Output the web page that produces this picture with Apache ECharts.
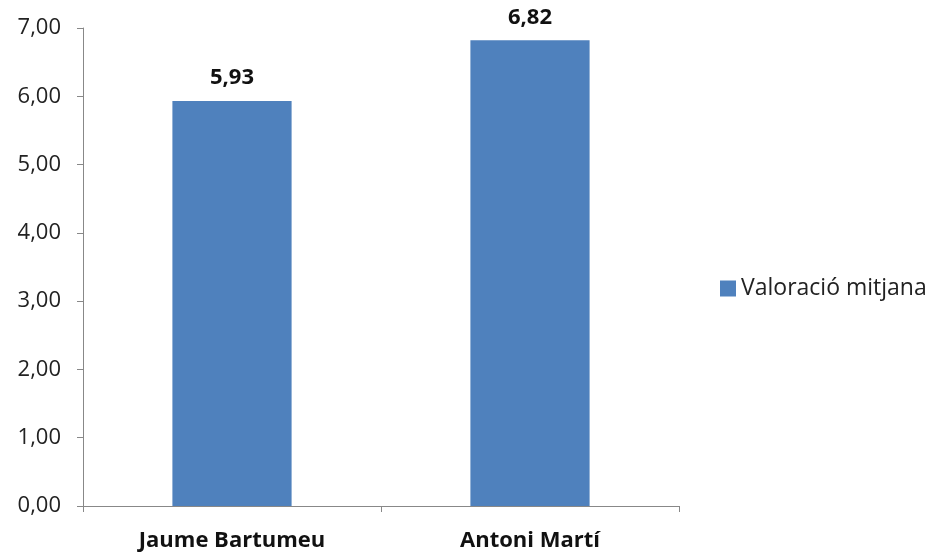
<!DOCTYPE html>
<html>
<head>
<meta charset="utf-8">
<script src="https://cdn.jsdelivr.net/npm/echarts@6/dist/echarts.min.js"></script>
<style>html,body{margin:0;padding:0;background:#fff}#c{width:934px;height:558px}</style>
</head>
<body>
<div id="c"></div>
<script>
const categories = ["Jaume Bartumeu", "Antoni Martí"];
const seriesName = "Valoració mitjana";
const values = [5.93, 6.82];
const yMin = 0, yMax = 7, yStep = 1;

const fmt = v => v.toFixed(2).replace('.', ',');
const font = "'Open Sans', 'DejaVu Sans', sans-serif";
const chart = echarts.init(document.getElementById('c'), null, {renderer: 'canvas'});
chart.setOption({
  animation: false,
  backgroundColor: '#fff',
  grid: {left: 83, right: 255, top: 28, bottom: 52, containLabel: false},
  legend: {
    data: [seriesName], left: 715, top: 272, orient: 'vertical',
    itemWidth: 16, itemHeight: 16, itemGap: 6,
    icon: 'rect',
    textStyle: {fontFamily: font, fontSize: 23, color: '#222'}
  },
  xAxis: {
    type: 'category', data: categories,
    axisLine: {lineStyle: {color: '#888', width: 1}},
    axisTick: {show: true, alignWithLabel: false, length: 6, lineStyle: {color: '#888'}},
    axisLabel: {fontFamily: font, fontSize: 22, fontWeight: 'bold', color: '#111', margin: 24}
  },
  yAxis: {
    type: 'value', min: yMin, max: yMax, interval: yStep,
    splitLine: {show: false},
    axisLine: {show: true, lineStyle: {color: '#888', width: 1}},
    axisTick: {show: true, length: 6, lineStyle: {color: '#888'}},
    axisLabel: {fontFamily: font, fontSize: 22, color: '#222', margin: 22, formatter: v => fmt(v)}
  },
  series: [{
    name: seriesName, type: 'bar', data: values, barWidth: '40%',
    itemStyle: {color: '#4F81BD'},
    label: {show: true, position: 'top', distance: 12, fontFamily: font, fontSize: 22, fontWeight: 'bold', color: '#111', formatter: p => fmt(p.value)}
  }]
});
</script>
</body>
</html>
